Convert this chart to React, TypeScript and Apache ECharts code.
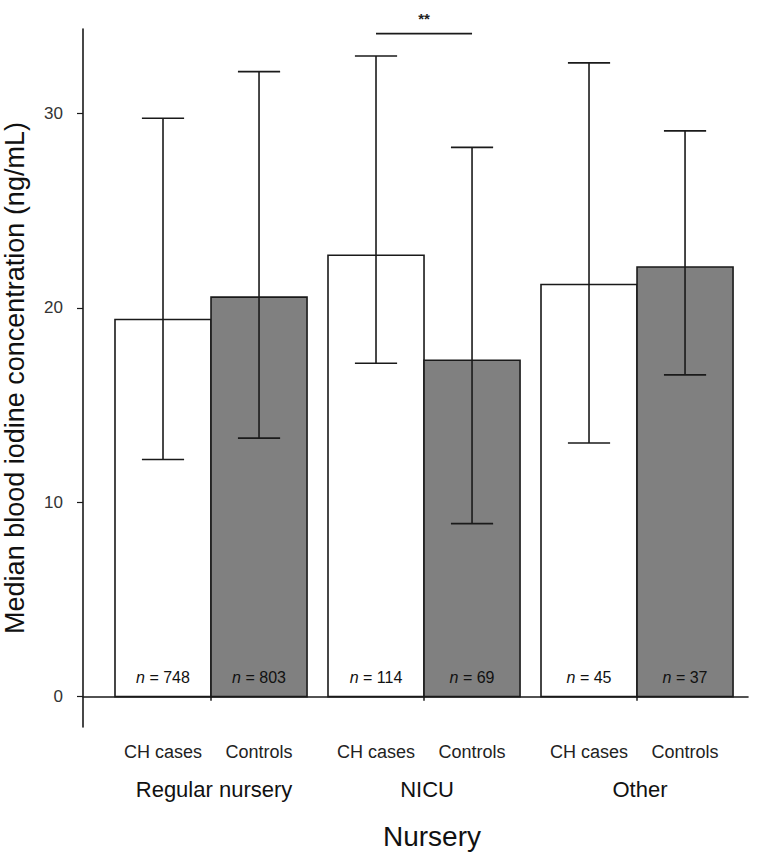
import React, { useEffect, useRef } from "react";
import * as echarts from "echarts";

const groups = ["Regular nursery", "NICU", "Other"];
const subgroups = ["CH cases", "Controls"];
const medianCH = [19.4, 22.7, 21.2];
const medianCtrl = [20.55, 17.3, 22.1];
const lowerCH = [12.2, 17.15, 13.05];
const upperCH = [29.75, 32.95, 32.6];
const lowerCtrl = [13.3, 8.9, 16.55];
const upperCtrl = [32.15, 28.25, 29.1];
const nCH = [748, 114, 45];
const nCtrl = [803, 69, 37];
const yTicks = [0, 10, 20, 30];
const groupTicks = [1, 2, 3];
const sigGroups = [1];
const sigLabels = ["**"];
const sigValues = [34.1];

const FONT = "'Liberation Sans', Arial, sans-serif";
const HALF = 0.2254;
const CAP = 0.099;
const Y_MIN = -1.56;
const Y_MAX = 34.34;
const INK = "#1a1a1a";

export default function App() {
  const ref = useRef<HTMLDivElement>(null);
  useEffect(() => {
    if (!ref.current) return;
    const chart = echarts.init(ref.current, undefined, { renderer: "svg" });

    const barData: number[][] = [];
    groups.forEach((_, g) => {
      barData.push([g, 0, medianCH[g], lowerCH[g], upperCH[g], nCH[g]]);
      barData.push([g, 1, medianCtrl[g], lowerCtrl[g], upperCtrl[g], nCtrl[g]]);
    });
    const groupData = groups.map((_, g) => [g, 0]);
    const sigData = sigGroups.map((g, i) => [g, sigValues[i], i]);

    const renderBar = (params: any, api: any) => {
      const g = api.value(0);
      const s = api.value(1);
      const med = api.value(2);
      const lo = api.value(3);
      const hi = api.value(4);
      const n = api.value(5);
      const xc = g + 1 + (s === 0 ? -HALF : HALF);
      const tl = api.coord([xc - HALF, med]);
      const br = api.coord([xc + HALF, 0]);
      const c = api.coord([xc, 0]);
      const top = api.coord([xc, hi]);
      const bot = api.coord([xc, lo]);
      const capL = api.coord([xc - CAP, 0])[0];
      const capR = api.coord([xc + CAP, 0])[0];
      const axisY = api.coord([xc, Y_MIN])[1];
      const lineStyle = { stroke: INK, lineWidth: 1.6 };
      return {
        type: "group",
        children: [
          {
            type: "rect",
            shape: { x: tl[0], y: tl[1], width: br[0] - tl[0], height: br[1] - tl[1] },
            style: { fill: s === 0 ? "#ffffff" : "#808080", stroke: INK, lineWidth: 1.6 },
          },
          { type: "line", shape: { x1: top[0], y1: top[1], x2: bot[0], y2: bot[1] }, style: lineStyle },
          { type: "line", shape: { x1: capL, y1: top[1], x2: capR, y2: top[1] }, style: lineStyle },
          { type: "line", shape: { x1: capL, y1: bot[1], x2: capR, y2: bot[1] }, style: lineStyle },
          {
            type: "text",
            x: c[0],
            y: c[1] - 19,
            style: {
              text: "{i|n} = " + n,
              rich: { i: { fontStyle: "italic", fontSize: 16, fontFamily: FONT, fill: "#111" } },
              fontSize: 16,
              fontFamily: FONT,
              fill: "#111",
              align: "center",
              verticalAlign: "middle",
            },
          },
          {
            type: "text",
            x: c[0],
            y: axisY + 25,
            style: {
              text: subgroups[s],
              fontSize: 18,
              fontFamily: FONT,
              fill: "#222",
              align: "center",
              verticalAlign: "middle",
            },
          },
        ],
      };
    };

    const renderGroup = (params: any, api: any) => {
      const g = api.value(0);
      const p = api.coord([g + 1, Y_MIN]);
      return {
        type: "text",
        x: p[0] + 3,
        y: p[1] + 62,
        style: {
          text: groups[g],
          fontSize: 22,
          fontFamily: FONT,
          fill: "#111",
          align: "center",
          verticalAlign: "middle",
        },
      };
    };

    const renderSig = (params: any, api: any) => {
      const g = api.value(0);
      const v = api.value(1);
      const i = api.value(2);
      const a = api.coord([g + 1 - HALF, v]);
      const b = api.coord([g + 1 + HALF, v]);
      return {
        type: "group",
        children: [
          { type: "line", shape: { x1: a[0], y1: a[1], x2: b[0], y2: b[1] }, style: { stroke: INK, lineWidth: 1.6 } },
          {
            type: "text",
            x: (a[0] + b[0]) / 2,
            y: a[1] - 15,
            style: {
              text: sigLabels[i],
              fontSize: 15,
              fontWeight: "bold",
              fontFamily: FONT,
              fill: "#222",
              align: "center",
              verticalAlign: "middle",
            },
          },
        ],
      };
    };

    chart.setOption({
      animation: false,
      backgroundColor: "#ffffff",
      grid: { left: 83, right: 9, top: 29, bottom: 126, containLabel: false, outerBoundsMode: "none" },
      xAxis: {
        type: "value",
        min: 0.399,
        max: 3.521,
        axisLine: { show: true, lineStyle: { color: INK, width: 1.6 } },
        axisTick: { show: true, customValues: groupTicks, length: 4, lineStyle: { color: INK, width: 1.5 } },
        axisLabel: { show: false },
        splitLine: { show: false },
      },
      yAxis: {
        type: "value",
        min: Y_MIN,
        max: Y_MAX,
        name: "Median blood iodine concentration (ng/mL)",
        nameLocation: "middle",
        nameRotate: 90,
        nameGap: 55,
        nameTextStyle: { fontSize: 27, fontFamily: FONT, color: "#111" },
        axisLine: { show: true, lineStyle: { color: INK, width: 1.6 } },
        axisTick: { show: true, customValues: yTicks, length: 6, lineStyle: { color: INK, width: 1.2 } },
        axisLabel: { show: true, customValues: yTicks, margin: 20, fontSize: 17, fontFamily: FONT, color: "#333" },
        splitLine: { show: false },
      },
      graphic: [
        {
          type: "text",
          x: 432,
          y: 836,
          style: {
            text: "Nursery",
            fontSize: 28,
            fontFamily: FONT,
            fill: "#111",
            align: "center",
            verticalAlign: "middle",
          },
        },
      ],
      series: [
        { type: "custom", renderItem: renderBar, data: barData, clip: false, encode: { x: 0, y: 2 } },
        { type: "custom", renderItem: renderGroup, data: groupData, clip: false, encode: { x: 0, y: 1 } },
        { type: "custom", renderItem: renderSig, data: sigData, clip: false, encode: { x: 0, y: 1 } },
      ],
    });
    return () => chart.dispose();
  }, []);
  return <div ref={ref} style={{ position: "fixed", left: 0, top: 0, width: 757, height: 853 }} />;
}
